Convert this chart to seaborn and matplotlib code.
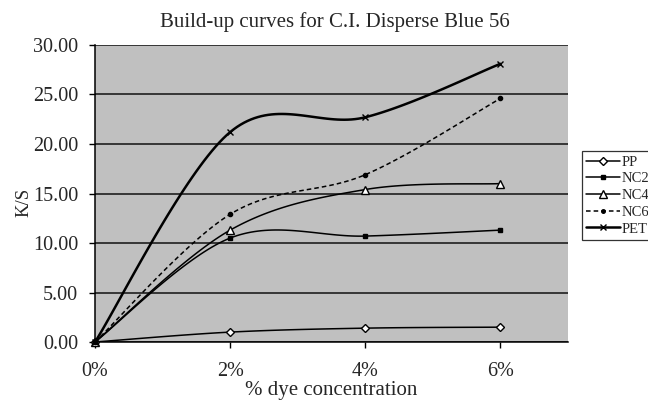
import numpy as np
import pandas as pd
import matplotlib
matplotlib.use("Agg")
import matplotlib.pyplot as plt
import seaborn as sns

categories = ["0%", "2%", "4%", "6%"]
pp = [0.0, 1.0, 1.4, 1.5]
nc2 = [0.0, 10.5, 10.7, 11.3]
nc4 = [0.0, 11.3, 15.4, 16.0]
nc6 = [0.0, 12.9, 16.9, 24.6]
pet = [0.0, 21.2, 22.7, 28.1]
series_names = ["PP", "NC2", "NC4", "NC6", "PET"]
series_values = [pp, nc2, nc4, nc6, pet]

sns.set_theme(style="white")
plt.rcParams['font.family'] = ['Liberation Serif', 'DejaVu Serif']


def smooth(xs, ys, n=40):
    # Excel-style smoothed line (Catmull-Rom Bezier segments)
    xs = np.asarray(xs, float)
    ys = np.asarray(ys, float)
    px = np.concatenate([[xs[0]], xs, [xs[-1]]])
    py = np.concatenate([[ys[0]], ys, [ys[-1]]])
    ox, oy = [], []
    t = np.linspace(0, 1, n)
    for i in range(1, len(px) - 2):
        p0 = np.array([px[i], py[i]])
        p3 = np.array([px[i + 1], py[i + 1]])
        c1 = p0 + (np.array([px[i + 1], py[i + 1]]) - np.array([px[i - 1], py[i - 1]])) / 6
        c2 = p3 - (np.array([px[i + 2], py[i + 2]]) - np.array([px[i], py[i]])) / 6
        b = ((1 - t) ** 3)[:, None] * p0 + (3 * (1 - t) ** 2 * t)[:, None] * c1 \
            + (3 * (1 - t) * t ** 2)[:, None] * c2 + (t ** 3)[:, None] * p3
        ox.extend(b[:, 0]); oy.extend(b[:, 1])
    return np.array(ox), np.array(oy)


fig = plt.figure(figsize=(6.48, 4.01), dpi=100)
ax = fig.add_axes([0.1466, 0.1471, 0.7299, 0.7407])
ax.set_facecolor("#c0c0c0")

styles = {
    "PP": dict(marker="D", mfc="white", ms=4.5, ls="-", lw=1.1),
    "NC2": dict(marker="s", mfc="black", ms=3.5, ls="-", lw=1.1),
    "NC4": dict(marker="^", mfc="white", ms=6, ls="-", lw=1.1),
    "NC6": dict(marker="o", mfc="black", ms=3, ls=(0, (3, 2)), lw=1.1),
    "PET": dict(marker="x", mfc="black", ms=5, ls="-", lw=1.8),
}

xpos = np.arange(len(categories))
for name, vals in zip(series_names, series_values):
    st = styles[name]
    sx, sy = smooth(xpos, vals)
    df = pd.DataFrame({"x": sx, "y": sy})
    sns.lineplot(data=df, x="x", y="y", ax=ax, color="black", lw=st["lw"],
                 linestyle=st["ls"], sort=False, estimator=None)
    ax.plot(xpos, vals, ls="none", marker=st["marker"], mfc=st["mfc"], mec="black",
            ms=st["ms"], mew=1.0, color="black", clip_on=False, zorder=5)

# legend handles
handles = [plt.Line2D([], [], color="black", lw=styles[n]["lw"], ls=styles[n]["ls"],
                      marker=styles[n]["marker"], mfc=styles[n]["mfc"], mec="black",
                      ms=styles[n]["ms"] * 0.85) for n in series_names]
leg = fig.legend(handles, series_names, loc="upper left", bbox_to_anchor=(0.898, 0.623),
                 frameon=True, fancybox=False, edgecolor="black", fontsize=10.5,
                 handlelength=2.3, labelspacing=0.24, borderpad=0.3, handletextpad=0.1,
                 borderaxespad=0)
leg.get_frame().set_linewidth(0.9)

ax.set_xlim(0, 3.5)
ax.set_ylim(0, 30)
ax.set_xticks(xpos)
ax.set_xticklabels(categories, fontsize=14.5)
ax.set_yticks(np.arange(0, 30.01, 5))
ax.set_yticklabels([f"{v:.2f}" for v in np.arange(0, 30.01, 5)], fontsize=14.5)
ax.set_xlabel("")
ax.set_ylabel("")
ax.grid(axis="y", color="#111111", lw=1.1)
ax.set_axisbelow(True)
for s in ["top", "right"]:
    ax.spines[s].set_visible(False)
for s in ["left", "bottom"]:
    ax.spines[s].set_color("black")
    ax.spines[s].set_linewidth(1.1)
ax.tick_params(axis="y", direction="out", length=4.5, width=1.0, color="black", pad=7.5, left=True)
ax.tick_params(axis="x", direction="out", length=4.5, width=1.0, color="black", pad=10, bottom=True)

fig.text(335 / 648, 1 - 22 / 401, "Build-up curves for C.I. Disperse Blue 56",
         fontsize=15, ha="center", va="center")
fig.text(331 / 648, 1 - 390 / 401, "% dye concentration", fontsize=15,
         ha="center", va="center")
fig.text(24 / 648, 1 - 202 / 401, "K/S", fontsize=13.5, rotation=90,
         ha="center", va="center")

fig.savefig("out.png", dpi=100)
